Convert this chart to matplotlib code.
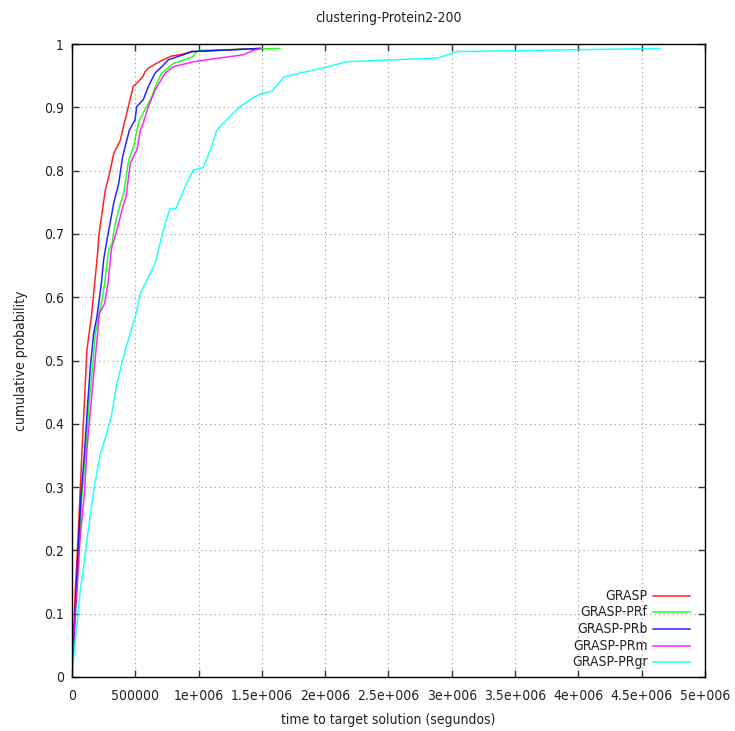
import matplotlib
matplotlib.use("Agg")
import matplotlib.pyplot as plt

title = "clustering-Protein2-200"
xlabel = "time to target solution (segundos)"
ylabel = "cumulative probability"

series_names = ["GRASP", "GRASP-PRf", "GRASP-PRb", "GRASP-PRm", "GRASP-PRgr"]
series_colors = ["#ff0000", "#00ff00", "#0000ff", "#ff00ff", "#00ffff"]

grasp_t = [0, 0.005e6, 0.026e6, 0.047e6, 0.079e6, 0.092e6, 0.105e6, 0.118e6, 0.153e6, 0.179e6, 0.205e6,
           0.211e6, 0.237e6, 0.263e6, 0.303e6, 0.329e6, 0.382e6, 0.400e6, 0.419e6, 0.445e6, 0.484e6,
           0.511e6, 0.558e6, 0.577e6, 0.603e6, 0.682e6, 0.721e6, 0.787e6, 0.879e6, 0.945e6, 1.485e6]
grasp_p = [0.005, 0.016, 0.137, 0.216, 0.359, 0.411, 0.464, 0.517, 0.569, 0.622, 0.675,
           0.696, 0.733, 0.769, 0.801, 0.827, 0.848, 0.864, 0.880, 0.901, 0.933,
           0.938, 0.948, 0.956, 0.962, 0.971, 0.975, 0.981, 0.984, 0.988, 0.993]

prf_t = [0, 0.018e6, 0.050e6, 0.076e6, 0.111e6, 0.137e6, 0.163e6, 0.184e6, 0.237e6, 0.258e6, 0.280e6,
         0.292e6, 0.316e6, 0.342e6, 0.382e6, 0.408e6, 0.448e6, 0.487e6, 0.513e6, 0.532e6, 0.590e6,
         0.630e6, 0.669e6, 0.708e6, 0.800e6, 0.958e6, 0.985e6, 1.011e6, 1.643e6]
prf_p = [0.005, 0.069, 0.174, 0.280, 0.359, 0.438, 0.490, 0.543, 0.596, 0.622, 0.659,
         0.675, 0.685, 0.717, 0.748, 0.764, 0.817, 0.838, 0.864, 0.880, 0.901,
         0.917, 0.938, 0.954, 0.969, 0.980, 0.988, 0.990, 0.993]

prb_t = [0, 0.016e6, 0.042e6, 0.069e6, 0.100e6, 0.126e6, 0.145e6, 0.171e6, 0.197e6, 0.232e6, 0.250e6,
         0.263e6, 0.276e6, 0.310e6, 0.329e6, 0.369e6, 0.400e6, 0.453e6, 0.498e6, 0.511e6, 0.563e6,
         0.603e6, 0.656e6, 0.708e6, 0.761e6, 0.879e6, 0.945e6, 1.485e6]
prb_p = [0.005, 0.069, 0.174, 0.280, 0.359, 0.438, 0.490, 0.543, 0.569, 0.622, 0.659,
         0.675, 0.690, 0.727, 0.748, 0.780, 0.822, 0.864, 0.880, 0.901, 0.912,
         0.933, 0.954, 0.964, 0.975, 0.983, 0.988, 0.993]

prm_t = [0, 0.016e6, 0.039e6, 0.063e6, 0.100e6, 0.118e6, 0.153e6, 0.190e6, 0.216e6, 0.258e6, 0.284e6,
         0.303e6, 0.310e6, 0.355e6, 0.395e6, 0.427e6, 0.461e6, 0.513e6, 0.540e6, 0.563e6, 0.603e6,
         0.656e6, 0.735e6, 0.800e6, 0.958e6, 1.353e6, 1.445e6, 1.485e6]
prm_p = [0.005, 0.069, 0.137, 0.216, 0.295, 0.359, 0.438, 0.517, 0.574, 0.590, 0.622,
         0.659, 0.675, 0.706, 0.738, 0.759, 0.812, 0.833, 0.864, 0.875, 0.901,
         0.927, 0.954, 0.964, 0.972, 0.983, 0.991, 0.993]

prgr_t = [0, 0.005e6, 0.026e6, 0.066e6, 0.118e6, 0.171e6, 0.224e6, 0.258e6, 0.310e6, 0.355e6, 0.421e6,
          0.500e6, 0.540e6, 0.656e6, 0.721e6, 0.774e6, 0.821e6, 0.906e6, 0.958e6, 1.037e6, 1.103e6,
          1.143e6, 1.235e6, 1.327e6, 1.406e6, 1.498e6, 1.577e6, 1.675e6, 1.800e6, 2.000e6, 2.170e6,
          2.893e6, 3.040e6, 4.645e6]
prgr_p = [0.005, 0.010, 0.058, 0.137, 0.216, 0.295, 0.353, 0.374, 0.411, 0.464, 0.517,
          0.569, 0.606, 0.653, 0.706, 0.740, 0.740, 0.780, 0.801, 0.805, 0.838,
          0.864, 0.883, 0.901, 0.912, 0.922, 0.925, 0.948, 0.954, 0.963, 0.972,
          0.978, 0.988, 0.993]

series = [(grasp_t, grasp_p), (prf_t, prf_p), (prb_t, prb_p), (prm_t, prm_p), (prgr_t, prgr_p)]

xticks = [0, 500000, 1e6, 1.5e6, 2e6, 2.5e6, 3e6, 3.5e6, 4e6, 4.5e6, 5e6]
xtick_labels = ["0", "500000", "1e+006", "1.5e+006", "2e+006", "2.5e+006", "3e+006",
                "3.5e+006", "4e+006", "4.5e+006", "5e+006"]
yticks = [0, 0.1, 0.2, 0.3, 0.4, 0.5, 0.6, 0.7, 0.8, 0.9, 1]
ytick_labels = ["0", "0.1", "0.2", "0.3", "0.4", "0.5", "0.6", "0.7", "0.8", "0.9", "1"]

plt.rcParams['font.family'] = ['DejaVu Sans']
plt.rcParams['font.stretch'] = 'condensed'
FS = 10
fig = plt.figure(figsize=(7.35, 7.31), dpi=100)
ax = fig.add_axes([72/735, 54/731, 633/735, 633/731])

for (t, p), c in zip(series, series_colors):
    ax.plot(t, p, color=c, lw=1.1, alpha=0.85)

ax.set_xlim(0, 5e6)
ax.set_ylim(0, 1)
ax.set_xticks(xticks)
ax.set_xticklabels(xtick_labels, fontsize=FS, fontstretch='condensed')
ax.set_yticks(yticks)
ax.set_yticklabels(ytick_labels, fontsize=FS, fontstretch='condensed')
ax.tick_params(direction="in", length=5, width=1, top=True, right=True, colors="#333333",
               labelcolor="#222222")
ax.tick_params(axis="x", pad=9)
ax.tick_params(axis="y", pad=6)
ax.grid(True, color="#999999", linestyle=(0, (1, 3)), lw=0.8)
for s in ax.spines.values():
    s.set_linewidth(1.0)
    s.set_color("black")

ax.set_title(title, fontsize=FS, pad=16, fontstretch='condensed', color="#222222")
ax.set_xlabel(xlabel, fontsize=FS, labelpad=7, fontstretch='condensed', color="#222222")
ax.set_ylabel(ylabel, fontsize=FS, labelpad=11, fontstretch='condensed', color="#222222")

# gnuplot-style legend: right-aligned text, sample line to the right
leg_y = [0.128, 0.102, 0.076, 0.049, 0.023]
for name, c, yy in zip(series_names, series_colors, leg_y):
    ax.text(0.909, yy, name, transform=ax.transAxes, ha="right", va="center", fontsize=FS,
            fontstretch='condensed', color="#222222")
    ax.plot([0.918, 0.976], [yy, yy], transform=ax.transAxes, color=c, lw=1.1, alpha=0.85)

fig.savefig("out.png", dpi=100)
